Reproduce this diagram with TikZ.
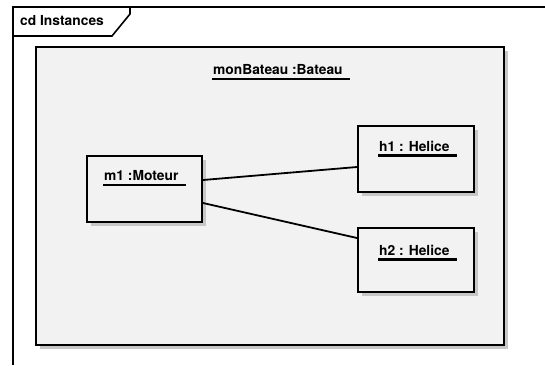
\documentclass[tikz,border=0pt]{standalone}
\usepackage{fontspec}
\setmainfont{TeX Gyre Heros}
\usetikzlibrary{calc,positioning,shadows}

\begin{document}
\begin{tikzpicture}[
            x=1pt, y=-1pt,
            frame/.style={line width=1.6pt},
            part/.style={
                draw,
                line width=2pt,
                fill=black!5,
                anchor=north west,
                inner sep=0pt,
                drop shadow={shadow xshift=4pt, shadow yshift=-4pt,
                    fill=black!22, opacity=1}
            },
            inst/.style={
                font=\fontsize{13.8}{15}\selectfont\bfseries,
                anchor=west,
                inner sep=0pt
            },
            uline/.style={line width=2.2pt},
            link/.style={line width=1.8pt}
        ]

            \useasboundingbox (0,0) rectangle (545,365);

            % diagram frame and its tab
            \draw[frame] (545,7) -- (13,7) -- (13,365);
            \draw[frame] (13,36) -- (112,36) -- (130,14) -- (130,7);
            \node[inst] (title) at (20,21) {cd Instances};

            % composite instance
            \node[part, minimum width=468pt, minimum height=298pt]
                (bateau) at (35,46) {};
            \node[inst] (bateaulabel) at (213,70) {monBateau :Bateau};

            % parts
            \node[part, minimum width=115pt, minimum height=66pt]
                (m1) at (86,155) {};
            \node[part, minimum width=116pt, minimum height=66pt]
                (h1) at (357,125) {};
            \node[part, minimum width=116pt, minimum height=64pt]
                (h2) at (357,227) {};

            \node[inst] (m1label) at (104,176) {m1 :Moteur};
            \node[inst] (h1label) at (379,146) {h1 : Helice};
            \node[inst] (h2label) at (379,250) {h2 : Helice};

            \foreach \lbl in {bateaulabel, m1label, h1label, h2label}
                \draw[uline] ($(\lbl.south west)+(-1,4)$)
                    -- ($(\lbl.south east)+(7,4)$);

            % links
            \draw[link] ($(m1.north east)+(0,25)$) -- ($(h1.north west)+(0,42)$);
            \draw[link] ($(m1.north east)+(0,48)$) -- ($(h2.north west)+(0,11)$);

        \end{tikzpicture}
\end{document}
